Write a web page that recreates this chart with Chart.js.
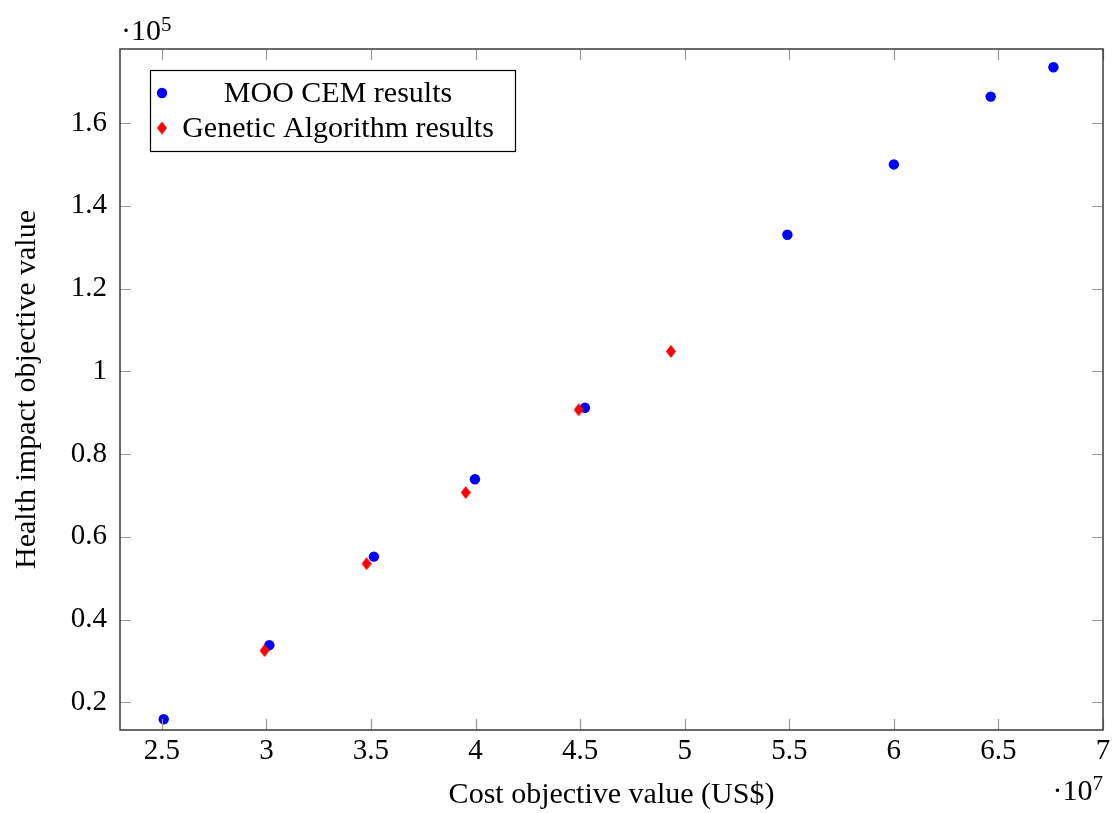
<!DOCTYPE html>
<html>
<head>
<meta charset="utf-8">
<script src="https://cdn.jsdelivr.net/npm/chart.js@4/dist/chart.umd.min.js"></script>
<style>
  html, body { margin: 0; padding: 0; background: #fff; }
  #wrap { width: 1117px; height: 813px; position: relative; }
</style>
</head>
<body>
<div id="wrap"><canvas id="plot"></canvas></div>
<script>
// values in axis units: cost x 1e7 US$, health impact x 1e5
const mooCost = [2.509, 3.014, 3.514, 3.997, 4.523, 5.491, 6.000, 6.463, 6.763];
const mooHealth = [0.159, 0.338, 0.552, 0.739, 0.912, 1.330, 1.500, 1.664, 1.735];
const gaCost = [2.991, 3.479, 3.953, 4.493, 4.934];
const gaHealth = [0.325, 0.535, 0.707, 0.907, 1.048];
const xTicks = [2.5, 3, 3.5, 4, 4.5, 5, 5.5, 6, 6.5, 7];
const yTicks = [0.2, 0.4, 0.6, 0.8, 1.0, 1.2, 1.4, 1.6];

const FONT = '"Liberation Serif", "DejaVu Serif", serif';

function toPoints(xs, ys) {
  return xs.map(function (x, i) { return { x: x, y: ys[i] }; });
}

// narrow diamond like the pgfplots marker
function makeDiamond(w, h, color) {
  const c = document.createElement('canvas');
  c.width = w; c.height = h;
  const g = c.getContext('2d');
  g.fillStyle = color;
  g.beginPath();
  g.moveTo(w / 2, 0);
  g.lineTo(w, h / 2);
  g.lineTo(w / 2, h);
  g.lineTo(0, h / 2);
  g.closePath();
  g.fill();
  return c;
}
const diamond = makeDiamond(10, 13, '#ff0000');

const framePlugin = {
  id: 'frame',
  afterDraw: function (chart) {
    const ctx = chart.ctx;
    const a = chart.chartArea;
    const sx = chart.scales.x, sy = chart.scales.y;
    ctx.save();
    ctx.strokeStyle = '#9a9a9a';
    ctx.lineWidth = 1.2;
    const len = 11;
    xTicks.forEach(function (v) {
      const px = Math.round(sx.getPixelForValue(v)) + 0.5;
      ctx.beginPath();
      ctx.moveTo(px, a.bottom); ctx.lineTo(px, a.bottom - len);
      ctx.moveTo(px, a.top); ctx.lineTo(px, a.top + len);
      ctx.stroke();
    });
    yTicks.forEach(function (v) {
      const py = Math.round(sy.getPixelForValue(v)) + 0.5;
      ctx.beginPath();
      ctx.moveTo(a.left, py); ctx.lineTo(a.left + len, py);
      ctx.moveTo(a.right, py); ctx.lineTo(a.right - len, py);
      ctx.stroke();
    });
    ctx.strokeStyle = '#3a3a3a';
    ctx.lineWidth = 1.5;
    ctx.strokeRect(a.left, a.top, a.right - a.left, a.bottom - a.top);

    // exponent labels
    ctx.fillStyle = '#000';
    ctx.textBaseline = 'alphabetic';
    ctx.textAlign = 'left';
    ctx.font = '30px ' + FONT;
    const base = '\u00b710';
    const bw = ctx.measureText(base).width;
    ctx.fillText(base, a.left + 1, 40);
    ctx.font = '21px ' + FONT;
    ctx.fillText('5', a.left + 1 + bw, 31);
    const sw = ctx.measureText('7').width;
    ctx.font = '30px ' + FONT;
    ctx.fillText(base, a.right - sw - bw, 800);
    ctx.font = '21px ' + FONT;
    ctx.fillText('7', a.right - sw, 790);

    // legend box inside the plot
    const lx = 150, ly = 70, lw = 365, lh = 81;
    ctx.fillStyle = '#fff';
    ctx.fillRect(lx, ly, lw, lh);
    ctx.strokeStyle = '#000';
    ctx.lineWidth = 1.2;
    ctx.strokeRect(lx + 0.5, ly + 0.5, lw, lh);
    ctx.font = '30px ' + FONT;
    ctx.textBaseline = 'middle';
    ctx.textAlign = 'center';
    const rowsY = [93, 128];
    const textCenter = 338;
    chart.data.datasets.forEach(function (ds, i) {
      ctx.fillStyle = ds.backgroundColor;
      Chart.helpers.drawPoint(ctx, {
        pointStyle: ds.pointStyle,
        radius: ds.pointRadius,
        borderWidth: 0,
        rotation: 0
      }, 162, rowsY[i]);
      ctx.fillStyle = '#000';
      ctx.fillText(ds.label, textCenter, rowsY[i] + 1);
    });
    ctx.restore();
  }
};

new Chart(document.getElementById('plot'), {
  type: 'scatter',
  data: {
    datasets: [{
      label: 'MOO CEM results',
      data: toPoints(mooCost, mooHealth),
      backgroundColor: '#0000ff',
      borderWidth: 0,
      pointStyle: 'circle',
      pointRadius: 5.2,
      order: 1
    }, {
      label: 'Genetic Algorithm results',
      data: toPoints(gaCost, gaHealth),
      backgroundColor: '#ff0000',
      borderWidth: 0,
      pointStyle: diamond,
      pointRadius: 6,
      order: 0
    }]
  },
  options: {
    responsive: true,
    maintainAspectRatio: false,
    animation: false,
    layout: { padding: { left: 0, right: 14, top: 49, bottom: 0 } },
    plugins: {
      legend: { display: false },
      tooltip: { enabled: false }
    },
    scales: {
      x: {
        type: 'linear',
        min: 2.30,
        max: 7.0,
        afterBuildTicks: function (s) { s.ticks = xTicks.map(function (v) { return { value: v }; }); },
        afterFit: function (s) { s.height = 83; },
        grid: { display: false },
        border: { display: false },
        ticks: {
          color: '#000',
          font: { family: FONT, size: 29 },
          padding: -4,
          maxRotation: 0,
          callback: function (v) { return String(v); }
        },
        title: {
          display: true,
          text: 'Cost objective value (US$)',
          color: '#000',
          font: { family: FONT, size: 30 },
          padding: { top: 0, bottom: 0 }
        }
      },
      y: {
        type: 'linear',
        min: 0.133,
        max: 1.779,
        afterBuildTicks: function (s) { s.ticks = yTicks.map(function (v) { return { value: v }; }); },
        afterFit: function (s) { s.width = 120; },
        grid: { display: false },
        border: { display: false },
        ticks: {
          color: '#000',
          font: { family: FONT, size: 29 },
          padding: 5,
          callback: function (v) { return String(v); }
        },
        title: {
          display: true,
          text: 'Health impact objective value',
          color: '#000',
          font: { family: FONT, size: 30 },
          padding: { top: 9, bottom: 0 }
        }
      }
    }
  },
  plugins: [framePlugin]
});
</script>
</body>
</html>
